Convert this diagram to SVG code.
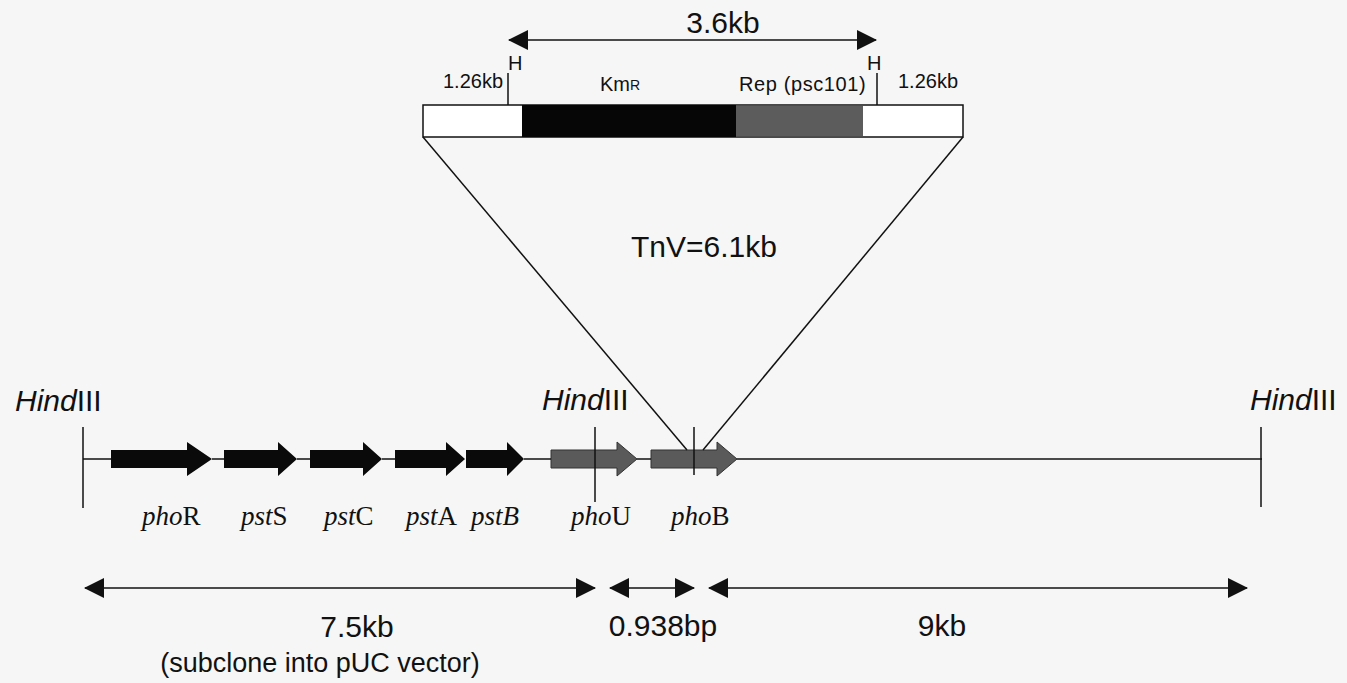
<svg xmlns="http://www.w3.org/2000/svg" width="1347" height="683" viewBox="0 0 1347 683">
  <defs>
    <style>
      .ln { stroke: #111; stroke-width: 1.5; fill: none; }
      .sans { font-family: "Liberation Sans", Arial, sans-serif; fill: #111; }
      .serif { font-family: "Liberation Serif", "Times New Roman", serif; fill: #111; font-size: 27px; }
      .big { font-size: 30px; }
      .small { font-size: 20px; }
      .gene-black { fill: #0a0a0a; }
      .gene-gray { fill: #5a5a5a; stroke: #333; stroke-width: 1; }
    </style>
    <marker id="ah" viewBox="0 0 20 20" refX="19" refY="10" markerWidth="20" markerHeight="20" markerUnits="userSpaceOnUse" orient="auto-start-reverse">
      <path d="M0,0 L20,10 L0,20 Z" fill="#111"/>
    </marker>
  </defs>

  <rect x="0" y="0" width="1347" height="683" fill="#f6f6f6"/>

  <!-- transposon insert -->
  <g id="tnv-cassette">
    <rect x="423" y="105" width="540" height="32" fill="#ffffff" stroke="#111" stroke-width="1.5"/>
    <rect x="522" y="105" width="214" height="32" fill="#060606"/>
    <rect x="736" y="106" width="127" height="30" fill="#5c5c5c"/>
    <line class="ln" x1="508" y1="73" x2="508" y2="105"/>
    <line class="ln" x1="877" y1="73" x2="877" y2="105"/>
    <text class="sans small" x="508" y="70">H</text>
    <text class="sans small" x="867" y="70">H</text>
    <text class="sans small" x="443" y="88">1.26kb</text>
    <text class="sans small" x="898" y="88">1.26kb</text>
    <text class="sans small" x="600" y="91">Km<tspan font-size="14" dy="-1">R</tspan></text>
    <text class="sans small" x="739" y="91" letter-spacing="0.6">Rep (psc101)</text>
  </g>

  <g id="size-36kb">
    <text class="sans big" x="723" y="33" text-anchor="middle">3.6kb</text>
  </g>

  <g id="tnv-label">
    <text class="sans big" x="704" y="257" text-anchor="middle">TnV=6.1kb</text>
  </g>

  <!-- restriction sites -->
  <g id="hind-left">
    <text class="sans big" x="15" y="411"><tspan font-style="italic">Hind</tspan>III</text>
  </g>
  <g id="hind-mid">
    <text class="sans big" x="542" y="410"><tspan font-style="italic">Hind</tspan>III</text>
  </g>
  <g id="hind-right">
    <text class="sans big" x="1250" y="410"><tspan font-style="italic">Hind</tspan>III</text>
  </g>

  <!-- genes -->
  <g id="phoR"><path class="gene-black" d="M111,450 H187 V442 L212,459 L187,476 V468 H111 Z"/><text class="serif" x="142" y="525"><tspan font-style="italic">pho</tspan>R</text></g>
  <g id="pstS"><path class="gene-black" d="M224,450 H278 V442 L297,459 L278,476 V468 H224 Z"/><text class="serif" x="241" y="525"><tspan font-style="italic">pst</tspan>S</text></g>
  <g id="pstC"><path class="gene-black" d="M310,450 H363 V442 L382,459 L363,476 V468 H310 Z"/><text class="serif" x="324" y="525"><tspan font-style="italic">pst</tspan>C</text></g>
  <g id="pstA"><path class="gene-black" d="M395,450 H446 V442 L465,459 L446,476 V468 H395 Z"/><text class="serif" x="406" y="525"><tspan font-style="italic">pst</tspan>A</text></g>
  <g id="pstB"><path class="gene-black" d="M466,450 H507 V442 L524,459 L507,476 V468 H466 Z"/><text class="serif" x="471" y="525" font-style="italic">pstB</text></g>
  <g id="phoU"><path class="gene-gray" d="M551,450 H617 V442 L637,459 L617,476 V468 H551 Z"/><text class="serif" x="571" y="525"><tspan font-style="italic">pho</tspan>U</text></g>
  <g id="phoB"><path class="gene-gray" d="M651,450 H717 V442 L737,459 L717,476 V468 H651 Z"/><text class="serif" x="671" y="525"><tspan font-style="italic">pho</tspan>B</text></g>

  <!-- size labels -->
  <g id="size-75kb">
    <text class="sans big" x="357" y="637" text-anchor="middle">7.5kb</text>
    <text class="sans" font-size="27" x="320" y="672" text-anchor="middle">(subclone into pUC vector)</text>
  </g>
  <g id="size-0938">
    <text class="sans big" x="663" y="636" text-anchor="middle">0.938bp</text>
  </g>
  <g id="size-9kb">
    <text class="sans big" x="942" y="636" text-anchor="middle">9kb</text>
  </g>

  <g id="connectors">
    <!-- chromosome backbone -->
    <line class="ln" x1="83" y1="459" x2="111" y2="459"/>
    <line class="ln" x1="212" y1="459" x2="224" y2="459"/>
    <line class="ln" x1="297" y1="459" x2="310" y2="459"/>
    <line class="ln" x1="382" y1="459" x2="395" y2="459"/>
    <line class="ln" x1="524" y1="459" x2="551" y2="459"/>
    <line class="ln" x1="637" y1="459" x2="651" y2="459"/>
    <line class="ln" x1="737" y1="459" x2="1262" y2="459"/>
    <!-- site ticks -->
    <line class="ln" x1="83" y1="427" x2="83" y2="508"/>
    <line class="ln" x1="595" y1="427" x2="595" y2="502"/>
    <line class="ln" x1="1261" y1="427" x2="1261" y2="507"/>
    <line class="ln" x1="694" y1="427" x2="694" y2="475"/>
    <!-- insertion lines -->
    <line class="ln" x1="423" y1="137" x2="687" y2="450"/>
    <line class="ln" x1="963" y1="137" x2="703" y2="450"/>
    <!-- size arrows -->
    <line class="ln" x1="509" y1="40" x2="876" y2="40" marker-start="url(#ah)" marker-end="url(#ah)"/>
    <line class="ln" x1="85" y1="588" x2="595" y2="588" marker-start="url(#ah)" marker-end="url(#ah)"/>
    <line class="ln" x1="610" y1="588" x2="694" y2="588" marker-start="url(#ah)" marker-end="url(#ah)"/>
    <line class="ln" x1="709" y1="588" x2="1247" y2="588" marker-start="url(#ah)" marker-end="url(#ah)"/>
  </g>
</svg>
